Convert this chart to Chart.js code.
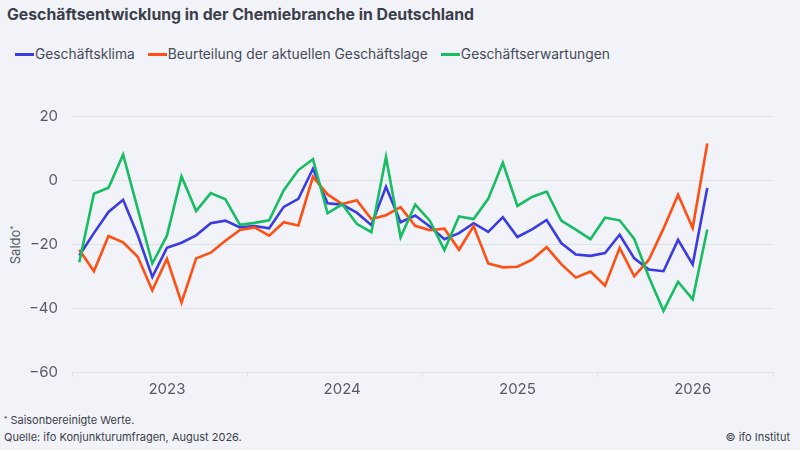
<!DOCTYPE html>
<html lang="de">
<head>
<meta charset="utf-8">
<script src="https://cdn.jsdelivr.net/npm/chart.js@4.4.1/dist/chart.umd.min.js"></script>
<style>
  html, body { margin: 0; padding: 0; background: #f2f3f8; }
  body { width: 800px; height: 450px; position: relative; overflow: hidden; font-family: Inter, "Noto Sans", sans-serif; color: #3b3f4a; }
  #chart { position: absolute; left: 0; top: 0; }
  .title { position: absolute; left: 7px; top: 5px; font-size: 15.8px; font-weight: 700; white-space: nowrap; }
  .legend { position: absolute; left: 15px; top: 46px; font-size: 13.8px; display: flex; white-space: nowrap; color: #454a56; }
  .legend .item { display: flex; align-items: center; margin-right: 13px; }
  .legend .line { width: 19px; height: 3px; margin-right: 1px; }
  .ytitle { position: absolute; left: 15px; top: 245px; font-size: 13px; color: #555a66; transform: translate(-50%, -50%) rotate(-90deg); white-space: nowrap; }
  .note { position: absolute; font-size: 11px; color: #3b3f4a; white-space: nowrap; }
  sup { font-size: 0.6em; vertical-align: 0.5em; line-height: 0; }
</style>
</head>
<body>
<div class="title">Geschäftsentwicklung in der Chemiebranche in Deutschland</div>
<div class="legend" id="legend"></div>
<div class="ytitle">Saldo<sup>*</sup></div>
<div class="note" style="left:4px; top:413px;"><sup>*</sup> Saisonbereinigte Werte.</div>
<div class="note" style="left:4px; top:430px;">Quelle: ifo Konjunkturumfragen, August 2026.</div>
<div class="note" style="right:10px; top:430px;">© ifo Institut</div>
<canvas id="chart" width="800" height="450"></canvas>
<script>
// Monate Jan 2023 bis Aug 2026
const months = [
  '2023-01','2023-02','2023-03','2023-04','2023-05','2023-06','2023-07','2023-08','2023-09','2023-10','2023-11','2023-12',
  '2024-01','2024-02','2024-03','2024-04','2024-05','2024-06','2024-07','2024-08','2024-09','2024-10','2024-11','2024-12',
  '2025-01','2025-02','2025-03','2025-04','2025-05','2025-06','2025-07','2025-08','2025-09','2025-10','2025-11','2025-12',
  '2026-01','2026-02','2026-03','2026-04','2026-05','2026-06','2026-07','2026-08'
];
const yearLabels = ['2023', '2024', '2025', '2026'];

const klima = [
  -23.6, -16.6, -10.0, -6.2, -17.2, -30.3, -21.2, -19.6, -17.3, -13.5, -12.7, -14.8,
  -14.4, -15.1, -8.4, -5.9, 3.5, -7.3, -7.7, -10.2, -14.1, -2.1, -13.2, -11.1,
  -14.5, -18.5, -16.6, -13.5, -16.2, -11.6, -17.8, -15.4, -12.5, -19.7, -23.3, -23.7,
  -22.8, -17.1, -24.5, -28.0, -28.5, -18.7, -26.4, -2.5
];
const lage = [
  -21.8, -28.5, -17.5, -19.5, -24.0, -34.5, -24.6, -38.3, -24.5, -22.7, -19.0, -15.6,
  -14.8, -17.4, -13.2, -14.2, 1.0, -4.5, -7.5, -6.3, -12.2, -11.0, -8.5, -14.3,
  -15.7, -15.2, -21.8, -14.4, -26.1, -27.3, -27.1, -24.9, -21.0, -26.3, -30.5, -28.6,
  -33.0, -21.2, -30.1, -24.9, -15.2, -4.6, -15.0, 11.4
];
const erwartungen = [
  -25.7, -4.3, -2.4, 7.9, -9.0, -26.1, -17.4, 1.1, -9.7, -4.1, -6.0, -14.0,
  -13.4, -12.6, -3.2, 3.1, 6.5, -10.4, -7.6, -13.7, -16.3, 7.2, -17.9, -7.7,
  -12.7, -21.9, -11.4, -12.2, -5.9, 5.4, -8.1, -5.3, -3.6, -12.7, -15.5, -18.5,
  -11.8, -12.6, -18.4, -30.3, -40.9, -31.8, -37.3, -15.5
];

const seriesNames = ['Geschäftsklima', 'Beurteilung der aktuellen Geschäftslage', 'Geschäftserwartungen'];
const seriesColors = ['#3b3be3', '#ff4f12', '#17bd63'];
const yTicks = [-60, -40, -20, 0, 20];

const gridColor = '#dfe1e8';
const tickColor = '#555a66';

// Monat i liegt in der Mitte seines Feldes: x = i + 0.5
function toPoints(values) {
  return values.map((v, i) => ({ x: months.indexOf(months[i]) + 0.5, y: v }));
}

const legend = document.getElementById('legend');
seriesNames.forEach((name, i) => {
  legend.innerHTML += `<div class="item"><span class="line" style="background:${seriesColors[i]}"></span>${name}</div>`;
});

new Chart(document.getElementById('chart').getContext('2d'), {
  type: 'line',
  data: {
    datasets: [klima, lage, erwartungen].map((vals, i) => ({
      label: seriesNames[i],
      data: toPoints(vals),
      borderColor: seriesColors[i],
      backgroundColor: seriesColors[i],
      borderWidth: 2.6,
      pointRadius: 0,
      tension: 0,
      order: 2 - i
    }))
  },
  options: {
    responsive: false,
    animation: false,
    layout: { padding: { top: 116, right: 27, left: 0, bottom: 0 } },
    plugins: { legend: { display: false }, tooltip: { enabled: false } },
    scales: {
      x: {
        type: 'linear',
        min: 0,
        max: 48,
        afterBuildTicks: s => {
          const t = [];
          yearLabels.forEach((y, k) => { t.push({ value: k * 12 }); t.push({ value: k * 12 + 6.5 }); });
          t.push({ value: 48 });
          s.ticks = t;
        },
        afterFit: s => { s.height = 78; },
        border: { display: false },
        grid: {
          drawOnChartArea: false,
          tickLength: 5,
          color: c => (c.tick && c.tick.value % 12 === 0) ? gridColor : 'transparent'
        },
        ticks: {
          autoSkip: false,
          maxRotation: 0,
          padding: 3,
          color: tickColor,
          font: { family: 'Inter', size: 15 },
          callback: v => v % 12 === 0 ? '' : yearLabels[Math.floor(v / 12)]
        }
      },
      y: {
        min: -60,
        max: 20,
        afterBuildTicks: s => { s.ticks = yTicks.map(v => ({ value: v })); },
        afterFit: s => { s.width = 72; },
        border: { display: false },
        grid: { color: gridColor, drawTicks: false, lineWidth: 1 },
        ticks: {
          padding: 14,
          color: tickColor,
          font: { family: 'Inter', size: 15 },
          callback: v => v < 0 ? '\u2212' + Math.abs(v) : String(v)
        }
      }
    }
  }
});
</script>
</body>
</html>
